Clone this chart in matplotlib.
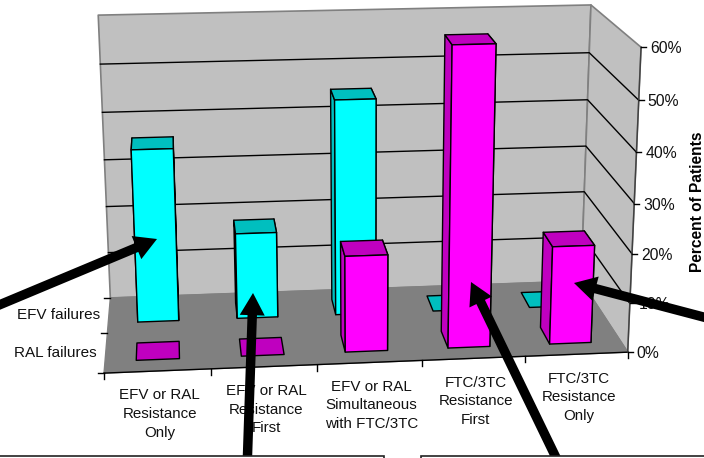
import numpy as np
import matplotlib
matplotlib.use('Agg')
import matplotlib.pyplot as plt
from matplotlib.patches import Polygon, Rectangle

plt.rcParams['font.family'] = ['Liberation Sans', 'DejaVu Sans']

categories = ['EFV or RAL\nResistance\nOnly', 'EFV or RAL\nResistance\nFirst',
              'EFV or RAL\nSimultaneous\nwith FTC/3TC', 'FTC/3TC\nResistance\nFirst',
              'FTC/3TC\nResistance\nOnly']
series_names = ['RAL failures', 'EFV failures']
efv_failures = [36, 18, 45, 0, 0]
ral_failures = [0, 0, 19.5, 60, 20]
y_ticks = [0, 10, 20, 30, 40, 50, 60]
y_label = 'Percent of Patients'

# Perspective camera fitted to the plot-box corners (data space -> pixels)
world = np.array([(0,0,0),(5,0,0),(5,2,0),(0,2,0),(0,2,60),(5,2,60),(5,0,60),
                  (5,0,30),(0,2,30),(5,2,30)], float)
image = np.array([(104,373),(628,352),(581,281),(110,298),(98,15),(591,5),(641,47),
                  (634,204),(105,160),(586,146)], float)
A, b = [], []
for (X, Y, Z), (u, v) in zip(world, image):
    A.append([X, Y, Z, 1, 0, 0, 0, 0, -u*X, -u*Y, -u*Z]); b.append(u)
    A.append([0, 0, 0, 0, X, Y, Z, 1, -v*X, -v*Y, -v*Z]); b.append(v)
P = np.append(np.linalg.lstsq(np.array(A), np.array(b), rcond=None)[0], 1).reshape(3, 4)

def pr(x, y, z):
    h = P @ np.array([x, y, z, 1.0])
    return (h[0]/h[2], h[1]/h[2])

fig = plt.figure(figsize=(7.04, 4.58), dpi=100)
ax = fig.add_axes([0, 0, 1, 1])
ax.set_xlim(0, 704); ax.set_ylim(458, 0); ax.axis('off')

WALL, FLOOR, EDGE = '#C0C0C0', '#808080', '#808080'
def quad(pts, fc, ec='black', lw=1.0, z=1):
    ax.add_patch(Polygon([pr(*p) for p in pts], closed=True, fc=fc, ec=ec, lw=lw, zorder=z, joinstyle='round'))

zmax = max(y_ticks)
quad([(0,2,0),(5,2,0),(5,2,zmax),(0,2,zmax)], WALL, EDGE, 1.2)
quad([(5,2,0),(5,0,0),(5,0,zmax),(5,2,zmax)], WALL, EDGE, 1.2)
quad([(0,0,0),(5,0,0),(5,2,0),(0,2,0)], FLOOR, EDGE, 1.0)

for t in y_ticks[1:-1]:
    ax.plot(*zip(pr(0,2,t), pr(5,2,t), pr(5,0,t)), color='black', lw=1.0, zorder=1.5)

# axes and ticks
ax.plot(*zip(pr(0,0,0), pr(5,0,0)), color='black', lw=1.0, zorder=1.6)
ax.plot(*zip(pr(5,0,0), pr(5,0,zmax)), color='#404040', lw=1.0, zorder=1.6)
for i in range(len(categories)+1):
    x0, y0 = pr(i,0,0)
    ax.plot([x0, x0], [y0, y0+6], color='black', lw=1.0, zorder=1.6)
for i, name in enumerate(series_names+['']):
    x0, y0 = pr(0,i,0)
    ax.plot([x0-6, x0], [y0, y0], color='black', lw=1.0, zorder=1.6)
for t in y_ticks:
    x0, y0 = pr(5,0,t)
    ax.plot([x0, x0+5], [y0, y0], color='black', lw=1.0, zorder=1.6)
    ax.text(x0+9, y0+1.5, f'{t}%', fontsize=11.3, color='#111111', va='center', ha='left', zorder=2)

# bars
BW, BD0, BD1 = 0.41, 0.28, 0.72
def bar(i, band, val, face, side, z):
    x0, x1 = i+0.5-BW/2, i+0.5+BW/2
    y0, y1 = band+BD0, band+BD1
    if val <= 0:
        quad([(x0,y0,0),(x1,y0,0),(x1,y1,0),(x0,y1,0)], side, 'black', 1.0, z)
        return
    quad([(x1,y0,0),(x1,y1,0),(x1,y1,val),(x1,y0,val)], side, 'black', 1.0, z)
    quad([(x0,y0,0),(x0,y1,0),(x0,y1,val),(x0,y0,val)], side, 'black', 1.0, z)
    quad([(x0,y0,val),(x1,y0,val),(x1,y1,val),(x0,y1,val)], side, 'black', 1.0, z)
    quad([(x0,y0,0),(x1,y0,0),(x1,y0,val),(x0,y0,val)], face, 'black', 1.0, z)

for i, v in enumerate(efv_failures):
    bar(i, 1, v, '#00FFFF', '#00BFBF', 3)
for i, v in enumerate(ral_failures):
    bar(i, 0, v, '#FF00FF', '#BF00BF', 4)

# text
for i, c in enumerate(categories):
    x0, y0 = pr(i+0.5,0,0)
    ax.text(x0+2, y0+43, c, fontsize=10.9, ha='center', va='center', color='#111111',
            linespacing=1.42, zorder=5)
for i, name in enumerate(series_names):
    x0, y0 = pr(0,i+0.5,0)
    ax.text(x0-9, y0, name, fontsize=11.0, ha='right', va='center', color='#111111', zorder=5)
ax.text(697, 202, y_label, fontsize=11.2, fontweight='bold', rotation=90, ha='center', va='center', zorder=5)

# annotation arrows
for tip, start in [((157,239),(-20,313)), ((253,293),(247,470)), ((471,282),(562,470)), ((574,283),(730,324))]:
    ax.annotate('', xy=tip, xytext=start, annotation_clip=False, zorder=8,
                arrowprops=dict(facecolor='black', edgecolor='black', lw=0, width=6.8,
                                headwidth=18, headlength=16, shrink=0))

# tops of the text boxes below the chart
for x0, x1 in [(-5, 384), (421, 710)]:
    ax.add_patch(Rectangle((x0, 456), x1-x0, 10, fc='white', ec='#222222', lw=1.2, zorder=9))

fig.savefig('out.png', dpi=100)
